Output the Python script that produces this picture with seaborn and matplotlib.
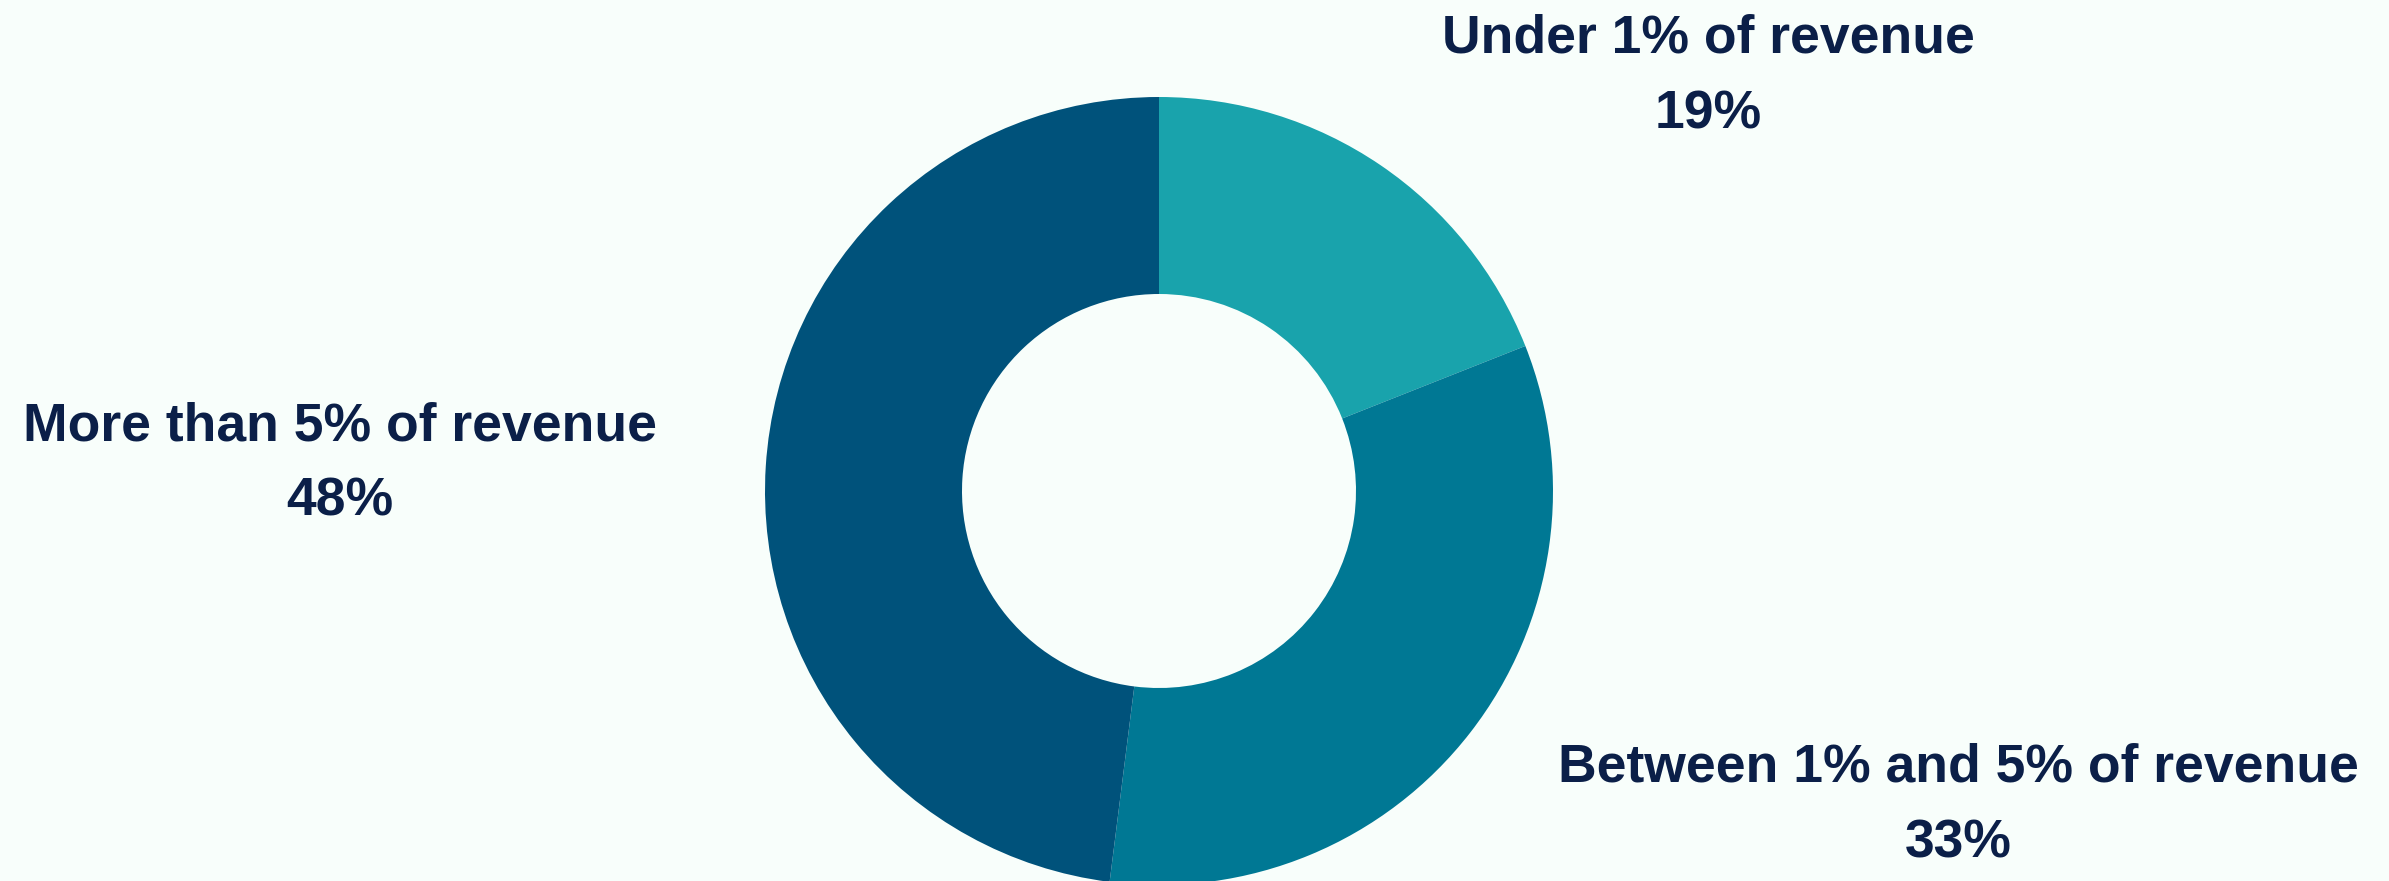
import matplotlib
matplotlib.use("Agg")
import matplotlib.pyplot as plt
import seaborn as sns
from matplotlib import font_manager

categories = ["Under 1% of revenue", "Between 1% and 5% of revenue", "More than 5% of revenue"]
shares = [19, 33, 48]
colors = ["#19A3AC", "#007894", "#00527B"]

BG = "#F8FEFB"
TEXT = "#0B1F48"

sns.set_theme(style="white")
names = {f.name for f in font_manager.fontManager.ttflist}
family = "Liberation Sans Narrow" if "Liberation Sans Narrow" in names else "Liberation Sans"
plt.rcParams["font.family"] = [family, "DejaVu Sans"]

W, H = 2389, 881
cx, cy, R = 1159, 491, 394

fig = plt.figure(figsize=(W / 100, H / 100), dpi=100, facecolor=BG)
ax = fig.add_axes([0, 0, 1, 1])
ax.set_facecolor(BG)

ax.pie(shares, colors=colors, startangle=90, counterclock=False, radius=1,
       wedgeprops=dict(width=0.5, linewidth=0))

ax.set_xlim(-cx / R, (W - cx) / R)
ax.set_ylim(-(H - cy) / R, cy / R)
ax.set_aspect("auto")
ax.axis("off")

def px(x, y):
    return (x - cx) / R, (cy - y) / R

label_pos = {
    "Under 1% of revenue": (1708, 39, 115),
    "Between 1% and 5% of revenue": (1958, 768, 843),
    "More than 5% of revenue": (340, 427, 502),
}
for cat, val in zip(categories, shares):
    x, y1, y2 = label_pos[cat]
    ax.text(*px(x, y1), cat, ha="center", va="center", fontsize=38.5,
            fontweight="bold", color=TEXT)
    ax.text(*px(x, y2), f"{val}%", ha="center", va="center", fontsize=38.5,
            fontweight="bold", color=TEXT)

fig.savefig("out.png", dpi=100, facecolor=BG)
